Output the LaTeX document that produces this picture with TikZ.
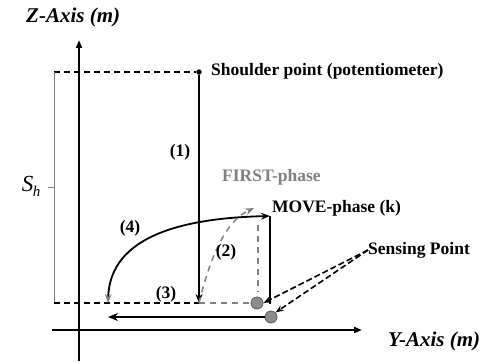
\documentclass[tikz,border=0pt]{standalone}
\usepackage{fontspec}
\setmainfont{Liberation Serif}
\usetikzlibrary{arrows.meta}
\begin{document}
\begin{tikzpicture}[x=1pt,y=-1pt,
  axis/.style={line width=2pt,-{Triangle[length=8pt,width=6pt]}},
  lbl/.style={font=\bfseries\fontsize{17.5}{20}\selectfont, inner sep=0pt},
  axislbl/.style={font=\bfseries\itshape\fontsize{21}{24}\selectfont, inner sep=0pt},
  sense/.style={circle, draw=black!65, line width=0.8pt, fill=black!45, minimum size=12pt, inner sep=0pt},
  blackdash/.style={dashed, dash pattern=on 6pt off 4pt, line width=1.3pt},
  graydash/.style={draw=black!50, dash pattern=on 6pt off 5pt, line width=1.5pt},
  pointer/.style={dash pattern=on 6pt off 3pt, line width=1.6pt, -{Stealth[length=8pt]}}]
\useasboundingbox (0,0) rectangle (484,361);
% axes
\coordinate (zb) at (79,361); \coordinate (zt) at (79,40);
\draw[axis] (zb) -- (zt);
\coordinate (yl) at (52,330); \coordinate (yr) at (362,330);
\draw[axis] (yl) -- (yr);
\node[axislbl, anchor=west] (zlab) at (26,17) {Z-Axis (m)};
\node[axislbl, anchor=west] (ylab) at (388,341) {Y-Axis (m)};
% shoulder
\node[circle, fill, inner sep=0pt, minimum size=5.5pt] (sh) at (199,72) {};
\node[lbl, anchor=west] (shl) at (211,71) {Shoulder point (potentiometer)};
\coordinate (tl) at (54,72);
\draw[blackdash] (tl) -- (sh);
% bracket S_h
\coordinate (bl) at (54,303);
\coordinate (tk) at (54,187); \coordinate (tk2) at (48,187);
\draw[black!50, line width=0.6pt] (tl) -- (bl);
\draw[black!50, line width=0.6pt] (tk) -- (tk2);
\node[inner sep=0pt] (Sh) at (31,186) {\fontsize{23}{26}\selectfont\itshape S\kern-0.5pt\raisebox{-5pt}{\fontsize{15}{17}\selectfont h}};
% arrow (1)
\coordinate (p1) at (199,303);
\draw[line width=1.4pt, -{Stealth[length=9pt,width=7pt]}] (sh) -- (p1);
\node[lbl] (l1) at (180,152) {(1)};
% sensing circles
\node[sense] (c1) at (257,303) {};
\node[sense] (c2) at (271,317) {};
% dashed baseline
\draw[blackdash] (bl) -- (p1);
\draw[graydash] (p1) -- (c1);
% move phase vertical
\coordinate (mt) at (270,216);
\coordinate (mb) at (270,304);
\draw[line width=1.5pt] (mt) -- (mb);
\coordinate (gt) at (258,225); \coordinate (gb) at (258,292);
\draw[graydash] (gt) -- (gb);
% curve (4)
\coordinate (c4s) at (108,303);
\draw[line width=1.8pt, {Stealth[length=9pt,color=black!50]}-{Stealth[length=9pt]}] (c4s) .. controls (110,235) and (185,218) .. (mt);
\node[lbl] (l4) at (130,228) {(4)};
% curve (2)
\coordinate (c2e) at (254,208);
\draw[graydash, -{Stealth[length=9pt]}] (p1) .. controls (212,250) and (228,220) .. (c2e);
\node[lbl] (l2) at (226,252) {(2)};
% arrow (3)
\coordinate (a3) at (108,317);
\draw[line width=1.8pt, -{Stealth[length=10pt,width=8pt]}] (c2) -- (a3);
\node[lbl] (l3) at (166,294) {(3)};
% phase labels
\node[lbl, text=black!50, anchor=west] (first) at (222,177) {FIRST-phase};
\node[lbl, anchor=west] (move) at (272,208) {MOVE-phase (k)};
% sensing point
\node[lbl, anchor=west] (sp) at (368,250) {Sensing Point};
\draw[pointer] (sp.west) -- (c1.east);
\draw[pointer] (sp.west) -- (c2.north east);
\end{tikzpicture}
\end{document}
